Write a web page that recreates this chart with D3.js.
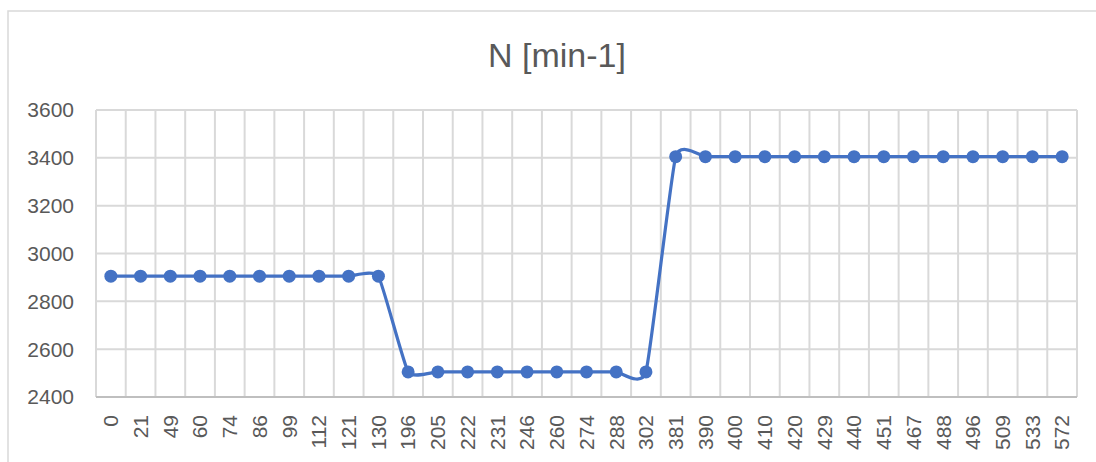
<!DOCTYPE html>
<html><head><meta charset="utf-8">
<script src="https://cdn.jsdelivr.net/npm/d3@7"></script>
<style>html,body{margin:0;padding:0;background:#fff;}svg{display:block;}</style>
</head><body>
<svg id="chart" width="1096" height="462"></svg>
<script>
const categories = ["0","21","49","60","74","86","99","112","121","130","196","205","222","231","246","260","274","288","302","381","390","400","410","420","429","440","451","467","488","496","509","533","572"];
const values = [2905,2905,2905,2905,2905,2905,2905,2905,2905,2905,2505,2505,2505,2505,2505,2505,2505,2505,2505,3405,3405,3405,3405,3405,3405,3405,3405,3405,3405,3405,3405,3405,3405];
const yTicks = [2400,2600,2800,3000,3200,3400,3600];
const title = "N [min-1]";

(function () {
const svg = d3.select("#chart");
const font = "'Liberation Sans', Arial, sans-serif";
const pLeft = 96, pRight = 1077, pTop = 110, pBottom = 397;

// outer chart border
svg.append("rect").attr("x", 8).attr("y", 11).attr("width", 1200).attr("height", 600)
  .attr("fill", "#fff").attr("stroke", "#d9d9d9").attr("stroke-width", 1.5);

const x = d3.scaleBand().domain(categories).range([pLeft, pRight]).padding(0);
const y = d3.scaleLinear().domain([2400, 3600]).range([pBottom, pTop]);

// horizontal gridlines
svg.append("g").selectAll("line").data(yTicks).join("line")
  .attr("x1", pLeft).attr("x2", pRight)
  .attr("y1", d => y(d)).attr("y2", d => y(d))
  .attr("stroke", "#d9d9d9").attr("stroke-width", 2);

// vertical gridlines at category boundaries
const bounds = categories.map(c => x(c)).concat([pRight]);
svg.append("g").selectAll("line").data(bounds).join("line")
  .attr("x1", d => d).attr("x2", d => d)
  .attr("y1", pTop).attr("y2", pBottom)
  .attr("stroke", "#d9d9d9").attr("stroke-width", 2);

// x axis line
svg.append("line").attr("x1", pLeft).attr("x2", pRight).attr("y1", pBottom).attr("y2", pBottom)
  .attr("stroke", "#bfbfbf").attr("stroke-width", 2);

// y tick labels
svg.append("g").selectAll("text").data(yTicks).join("text")
  .attr("x", 74).attr("y", d => y(d)).attr("dy", "0.35em")
  .attr("text-anchor", "end").attr("font-family", font).attr("font-size", 21)
  .attr("fill", "#595959").text(d => d);

// x tick labels (rotated)
svg.append("g").selectAll("text").data(categories).join("text")
  .attr("transform", d => `translate(${x(d) + x.bandwidth()/2},415) rotate(-90)`)
  .attr("dy", "0.35em").attr("text-anchor", "end")
  .attr("font-family", font).attr("font-size", 21).attr("fill", "#595959").text(d => d);

// title
svg.append("text").attr("x", 557).attr("y", 67).attr("text-anchor", "middle")
  .attr("font-family", font).attr("font-size", 34).attr("fill", "#595959").text(title);

// line
const pts = categories.map((c, i) => [x(c) + x.bandwidth()/2, y(values[i])]);
svg.append("path").datum(pts)
  .attr("d", d3.line().curve(d3.curveCardinal.tension(0.55)))
  .attr("fill", "none").attr("stroke", "#4472C4").attr("stroke-width", 3.2)
  .attr("stroke-linejoin", "round");

svg.append("g").selectAll("circle").data(pts).join("circle")
  .attr("cx", d => d[0]).attr("cy", d => d[1]).attr("r", 6.5)
  .attr("fill", "#4472C4");
})();
</script>
</body></html>
